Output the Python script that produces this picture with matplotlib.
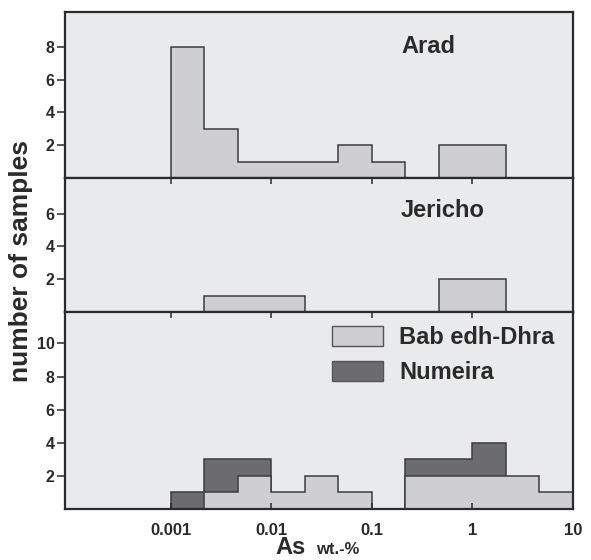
import matplotlib
matplotlib.use("Agg")
import matplotlib.pyplot as plt
from matplotlib.patches import Patch

plt.rcParams['font.family'] = ['Liberation Sans', 'DejaVu Sans']
plt.rcParams['font.weight'] = 'bold'

# Logarithmic bin edges (As, wt.-%), one third of a decade per bin
bin_edges = [0.001, 0.00215, 0.00464, 0.01, 0.0215, 0.0464,
             0.1, 0.215, 0.464, 1.0, 2.15, 4.64, 10.0]

arad_counts = [8, 3, 1, 1, 1, 2, 1, 0, 2, 2, 0, 0]
jericho_counts = [0, 1, 1, 1, 0, 0, 0, 0, 2, 2, 0, 0]
bab_edh_dhra_counts = [0, 1, 2, 1, 2, 1, 0, 2, 2, 2, 2, 1]
numeira_counts = [1, 3, 3, 0, 0, 0, 0, 3, 3, 4, 0, 0]

x_ticks = [0.001, 0.01, 0.1, 1, 10]
x_tick_labels = ['0.001', '0.01', '0.1', '1', '10']
arad_yticks = [2, 4, 6, 8]
jericho_yticks = [2, 4, 6]
south_yticks = [2, 4, 6, 8, 10]

panel_face = '#e9eaec'
light_fill = '#cfcfd1'
dark_fill = '#6c6c6e'
edge_col = '#3c3c3c'
text_col = '#2a2a2a'

W, H = 591, 560
fig = plt.figure(figsize=(W / 100, H / 100), dpi=100)


def px_rect(x0, y0, x1, y1):
    return [x0 / W, 1 - y1 / H, (x1 - x0) / W, (y1 - y0) / H]


ax_top = fig.add_axes(px_rect(65, 12, 573, 178))
ax_mid = fig.add_axes(px_rect(65, 178, 573, 312))
ax_bot = fig.add_axes(px_rect(65, 312, 573, 509))

for ax in (ax_top, ax_mid, ax_bot):
    ax.set_facecolor(panel_face)
    ax.set_xscale('log')
    ax.set_xlim(10 ** -4.05, 10)
    for s in ax.spines.values():
        s.set_linewidth(1.6)
        s.set_color('#2b2b2b')
    ax.set_xticks(x_ticks)
    ax.xaxis.set_minor_locator(matplotlib.ticker.NullLocator())
    ax.tick_params(axis='y', direction='out', length=5.5, width=1.1,
                   pad=2, labelsize=11.5, colors=text_col)
    ax.tick_params(axis='x', width=1.1, colors=text_col)

# Upper panels: x ticks pointing into the panel from the top edge
ax_top.tick_params(axis='x', bottom=False, labelbottom=False)
for ax in (ax_mid, ax_bot):
    ax.tick_params(axis='x', top=True, bottom=False, direction='in',
                   length=4, labelbottom=False)
# Lowest panel: outward ticks and labels along the bottom edge
ax_bot.tick_params(axis='x', which='major', bottom=True, labelbottom=True)
for t in ax_bot.xaxis.get_major_ticks():
    t.tick1line.set_marker(3)  # TICKDOWN
    t.tick1line.set_markersize(5)
ax_bot.set_xticklabels(x_tick_labels)
ax_bot.tick_params(axis='x', labelsize=12, pad=10)

# Arad
ax_top.stairs(arad_counts, bin_edges, fill=True, facecolor=light_fill,
              edgecolor=edge_col, linewidth=1.1)
ax_top.set_ylim(0, 10.12)
ax_top.set_yticks(arad_yticks)
ax_top.text(0.663, 0.755, 'Arad', transform=ax_top.transAxes,
            fontsize=17, fontweight='bold', color=text_col, va='baseline')

# Jericho
ax_mid.stairs(jericho_counts, bin_edges, fill=True, facecolor=light_fill,
              edgecolor=edge_col, linewidth=1.1)
ax_mid.set_ylim(0, 8.17)
ax_mid.set_yticks(jericho_yticks)
ax_mid.text(0.661, 0.711, 'Jericho', transform=ax_mid.transAxes,
            fontsize=17, fontweight='bold', color=text_col, va='baseline')

# Bab edh-Dhra and Numeira, overlapping histograms
ax_bot.stairs(numeira_counts, bin_edges, fill=True, facecolor=dark_fill,
              edgecolor=edge_col, linewidth=1.1)
ax_bot.stairs(bab_edh_dhra_counts, bin_edges, fill=True, facecolor=light_fill,
              edgecolor=edge_col, linewidth=1.1)
ax_bot.set_ylim(0, 11.9)
ax_bot.set_yticks(south_yticks)

handles = [Patch(facecolor=light_fill, edgecolor='#555555', linewidth=1.0),
           Patch(facecolor=dark_fill, edgecolor='#555555', linewidth=1.0)]
leg = ax_bot.legend(handles, ['Bab edh-Dhra', 'Numeira'],
                    loc='upper left', bbox_to_anchor=(0.526, 0.93),
                    frameon=False, fontsize=17, handlelength=2.15,
                    handleheight=0.95, handletextpad=0.7,
                    labelspacing=0.5, borderpad=0, borderaxespad=0)
for t in leg.get_texts():
    t.set_color(text_col)
    t.set_fontweight('bold')

# Axis titles
fig.text(21 / W, 1 - 261 / H, 'number of samples', rotation=90,
         ha='center', va='center', fontsize=19, fontweight='bold',
         color=text_col)
fig.text(275 / W, 1 - 554 / H, 'As', ha='left', va='baseline',
         fontsize=17, fontweight='bold', color=text_col)
fig.text(316 / W, 1 - 554 / H, 'wt.-%', ha='left', va='baseline',
         fontsize=12, fontweight='bold', color=text_col)

fig.savefig('out.png', dpi=100)
